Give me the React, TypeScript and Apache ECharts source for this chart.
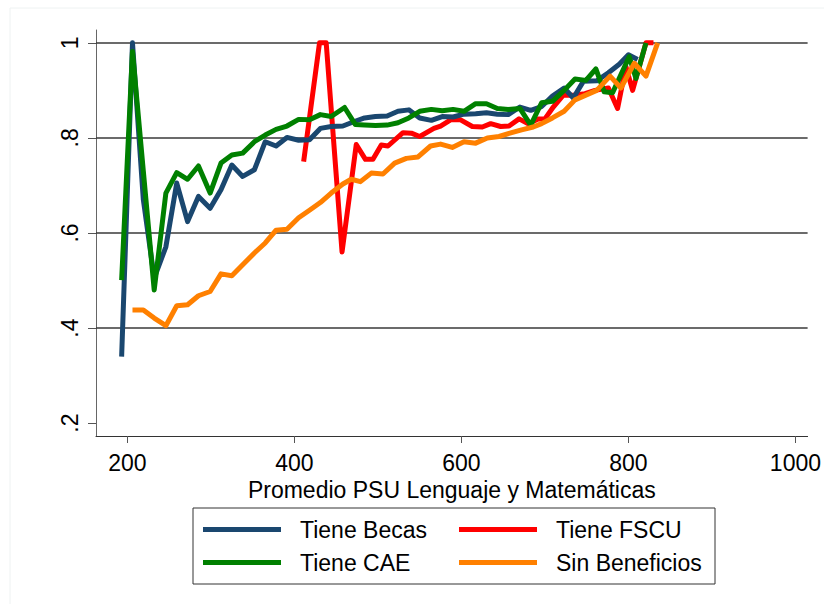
import React, { useEffect, useRef } from "react";
import * as echarts from "echarts";

// Shared x positions (PSU average) for Becas / CAE
const xBecas = [193, 206, 219, 232, 246, 259, 272, 285, 299, 312, 325, 338, 352, 365, 378, 391, 405, 418, 431, 444, 458, 471, 484, 497, 511, 524, 537, 550, 564, 577, 590, 603, 617, 630, 643, 656, 670, 683, 696, 709, 723, 734, 746, 762, 776, 789, 800, 811];
const yBecas = [0.34, 1.0, 0.67, 0.505, 0.571, 0.705, 0.624, 0.677, 0.652, 0.691, 0.743, 0.719, 0.733, 0.792, 0.783, 0.801, 0.795, 0.796, 0.82, 0.824, 0.825, 0.834, 0.842, 0.845, 0.846, 0.856, 0.859, 0.842, 0.837, 0.845, 0.844, 0.85, 0.851, 0.853, 0.85, 0.849, 0.865, 0.858, 0.866, 0.888, 0.905, 0.884, 0.919, 0.92, 0.937, 0.955, 0.975, 0.965];

const xCAE = [193, 206, 219, 232, 246, 259, 272, 285, 299, 312, 325, 338, 352, 365, 378, 391, 405, 418, 431, 444, 460, 473, 484, 497, 511, 524, 537, 550, 564, 577, 590, 603, 617, 630, 643, 656, 670, 683, 696, 709, 723, 736, 749, 761, 771, 781, 801, 809, 821];
const yCAE = [0.501, 0.982, 0.73, 0.48, 0.684, 0.727, 0.713, 0.741, 0.684, 0.747, 0.764, 0.768, 0.792, 0.806, 0.818, 0.825, 0.839, 0.838, 0.849, 0.845, 0.864, 0.828, 0.827, 0.826, 0.827, 0.832, 0.842, 0.856, 0.86, 0.857, 0.86, 0.856, 0.872, 0.872, 0.862, 0.86, 0.862, 0.827, 0.874, 0.877, 0.9, 0.924, 0.921, 0.945, 0.897, 0.895, 0.971, 0.925, 1.0];

const xFSCU = [411, 430, 438, 457, 474, 485, 494, 504, 512, 530, 540, 550, 567, 575, 587, 599, 613, 625, 635, 647, 657, 669, 680, 692, 700, 710, 722, 734, 748, 760, 776, 787, 797, 805, 821, 830];
const yFSCU = [0.75, 1.0, 1.0, 0.56, 0.786, 0.755, 0.755, 0.785, 0.783, 0.811, 0.81, 0.803, 0.82, 0.825, 0.838, 0.838, 0.824, 0.823, 0.83, 0.824, 0.825, 0.84, 0.83, 0.84, 0.84, 0.865, 0.89, 0.89, 0.893, 0.9, 0.905, 0.862, 0.95, 0.9, 1.0, 1.0];

const xSin = [206, 219, 232, 246, 259, 272, 285, 299, 312, 325, 338, 352, 365, 378, 391, 405, 418, 431, 444, 458, 468, 479, 492, 506, 520, 534, 548, 563, 575, 589, 603, 617, 631, 645, 658, 672, 686, 696, 709, 723, 736, 749, 762, 778, 791, 807, 821, 835];
const ySin = [0.438, 0.438, 0.421, 0.405, 0.447, 0.449, 0.468, 0.477, 0.514, 0.51, 0.533, 0.558, 0.579, 0.606, 0.608, 0.632, 0.648, 0.664, 0.684, 0.703, 0.713, 0.708, 0.726, 0.724, 0.747, 0.757, 0.76, 0.783, 0.787, 0.78, 0.792, 0.789, 0.8, 0.803, 0.81, 0.817, 0.823, 0.83, 0.842, 0.856, 0.88, 0.89, 0.9, 0.93, 0.905, 0.957, 0.93, 1.0];

const xTicks = [200, 400, 600, 800, 1000];
const yTicks = [0.2, 0.4, 0.6, 0.8, 1];
const yGrid = [0.4, 0.6, 0.8, 1];

const FONT = "'Liberation Sans', Arial, Helvetica, sans-serif";
const W = 824;
const H = 604;

function pairs(xs: number[], ys: number[]) {
  return xs.map((x, i) => [x, ys[i]]);
}

export default function App() {
  const ref = useRef<HTMLDivElement>(null);
  useEffect(() => {
    if (!ref.current) return;
    document.body.style.margin = "0";
    document.body.style.overflow = "hidden";
    const chart = echarts.init(ref.current, undefined, { renderer: "svg", width: W, height: H });
    const lineSeries = (name: string, color: string, data: number[][], z: number) => ({
      name,
      type: "line",
      data,
      symbol: "none",
      showSymbol: false,
      clip: false,
      z,
      lineStyle: { color, width: 5, join: "round" },
      itemStyle: { color },
    });
    chart.setOption({
      animation: false,
      backgroundColor: "#ffffff",
      grid: { left: 96, right: 11, top: 30, bottom: 168, containLabel: false },
      graphic: [
        {
          type: "rect",
          shape: { x: 10, y: 8, width: 830, height: 620 },
          style: { fill: "none", stroke: "#eef2f2", lineWidth: 1 },
          silent: true,
          z: -10,
        },
      ],
      xAxis: {
        type: "value",
        min: 162.3,
        max: 1014.6,
        name: "Promedio PSU Lenguaje y Matemáticas",
        nameLocation: "middle",
        nameGap: 39,
        nameTextStyle: { fontSize: 23, color: "#000", fontFamily: FONT },
        axisLine: { show: true, onZero: false, lineStyle: { color: "#333", width: 1 } },
        axisTick: { show: true, length: 7, customValues: xTicks, lineStyle: { color: "#555" } },
        axisLabel: {
          customValues: xTicks,
          margin: 15,
          fontSize: 23,
          color: "#000",
          fontFamily: FONT,
          formatter: (v: number) => String(v),
        },
        splitLine: { show: false },
      },
      yAxis: {
        type: "value",
        min: 0.173,
        max: 1.027,
        axisLine: { show: true, onZero: false, lineStyle: { color: "#666", width: 1 } },
        axisTick: { show: true, length: 8, customValues: yTicks, lineStyle: { color: "#555" } },
        axisLabel: {
          customValues: yTicks,
          rotate: 90,
          margin: 15,
          fontSize: 23,
          color: "#000",
          fontFamily: FONT,
          formatter: (v: number) => (v === 1 ? "1" : String(Math.round(v * 10) / 10).replace(/^0/, "")),
        },
        splitLine: { show: false },
      },
      legend: {
        left: 193,
        top: 508,
        width: 580,
        orient: "horizontal",
        padding: [10, 10, 10, 10],
        itemGap: 10,
        itemWidth: 78,
        itemHeight: 5,
        icon: "rect",
        borderColor: "#333",
        borderWidth: 1,
        data: ["Tiene Becas", "Tiene FSCU", "Tiene CAE", "Sin Beneficios"],
        textStyle: {
          fontSize: 23,
          color: "#000",
          fontFamily: FONT,
          width: 149,
          lineHeight: 21,
          padding: [0, 0, 0, 14],
        },
      },
      series: [
        {
          ...lineSeries("Tiene Becas", "#1a476f", pairs(xBecas, yBecas), 4),
          markLine: {
            silent: true,
            symbol: "none",
            label: { show: false },
            lineStyle: { color: "#3a3a3a", width: 1.5, type: "solid" },
            data: yGrid.map((v) => ({ yAxis: v })),
            z: 1,
          },
        },
        lineSeries("Tiene FSCU", "#ff0000", pairs(xFSCU, yFSCU), 3),
        lineSeries("Tiene CAE", "#008000", pairs(xCAE, yCAE), 5),
        lineSeries("Sin Beneficios", "#ff8000", pairs(xSin, ySin), 6),
      ],
    });
    return () => chart.dispose();
  }, []);
  return <div ref={ref} style={{ width: W, height: H, background: "#fff" }} />;
}
